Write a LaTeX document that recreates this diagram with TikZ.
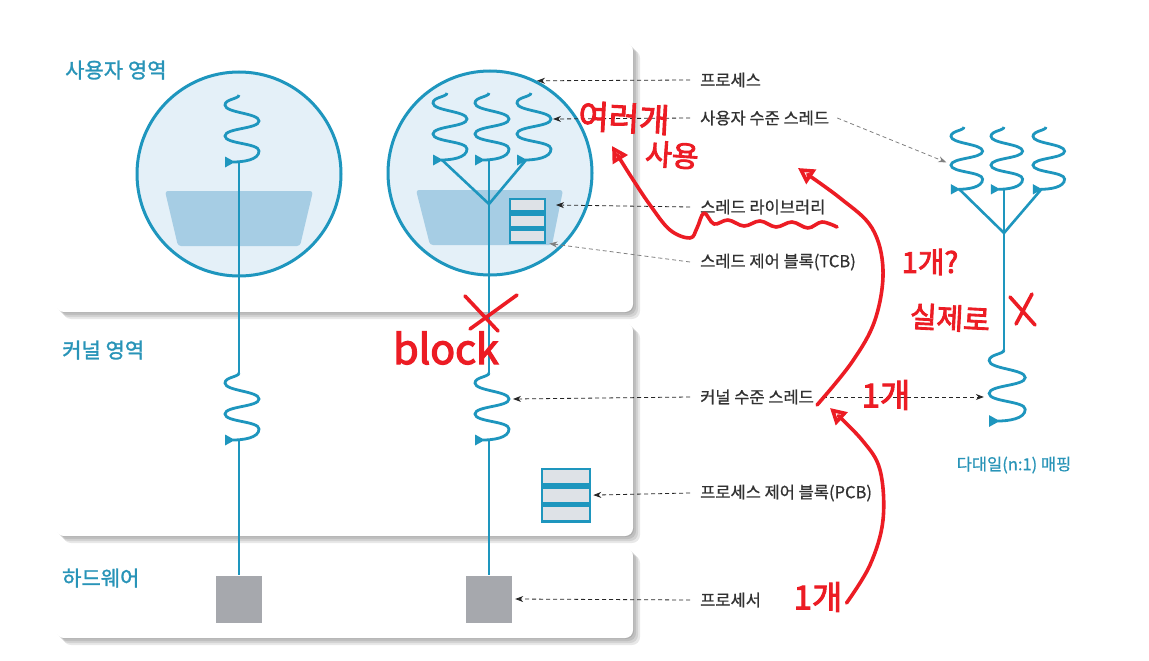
\documentclass[tikz,border=0pt]{standalone}
\usepackage{fontspec}
\setmainfont{Noto Sans CJK KR}
\newfontfamily\handfont[FakeBold=3]{Noto Sans CJK KR}
\newfontfamily\areafont[FakeBold=1.4]{Noto Sans CJK KR}
\newfontfamily\notefont[FakeBold=0.7]{Noto Sans CJK KR}
\usetikzlibrary{arrows.meta}

\definecolor{thr}{RGB}{30,150,190}
\definecolor{areatxt}{RGB}{40,148,184}
\definecolor{cellfill}{RGB}{228,240,248}
\definecolor{libfill}{RGB}{166,205,228}
\definecolor{rowfill}{RGB}{222,226,231}
\definecolor{cpufill}{RGB}{166,168,173}
\definecolor{lbl}{RGB}{50,50,50}
\definecolor{redink}{RGB}{236,28,36}

\tikzset{
  thread/.pic={
    \draw[wave] (0,0) .. controls (0,4) and (-14,4) .. (-14,10)
      .. controls (-14,18) and (20,18) .. (20,26)
      .. controls (20,34) and (-14,33) .. (-14,41)
      .. controls (-14,49) and (20,48) .. (20,56)
      .. controls (20,65) and (4,67) .. (-6,67);
    \fill[thr] (-14,61.5) -- (-14,72.5) -- (-4,67) -- cycle;
    \coordinate (-top) at (0,0);
    \coordinate (-bot) at (0,67);
    \coordinate (-end) at (-5,67);
    \coordinate (-rb) at (20,26);
    \coordinate (-lbo) at (-19,38);
  }
}

\begin{document}
\begin{tikzpicture}[
  x=1pt, y=-1pt,
  panel/.style={fill=white, rounded corners=8},
  shade/.style={fill=black, opacity=0.09, rounded corners=8},
  wave/.style={draw=thr, line width=2.8},
  link/.style={draw=thr, line width=2.6},
  procbody/.style={circle, draw=thr, line width=3, fill=cellfill, minimum size=204, inner sep=0},
  lib/.style={fill=libfill, rounded corners=3},
  cpu/.style={fill=cpufill, minimum width=46, minimum height=47, inner sep=0},
  ctrl/.style={draw=thr, line width=2.6, fill=rowfill, minimum width=#1, inner sep=0},
  area/.style={font=\areafont\fontsize{21}{24}\selectfont, text=areatxt, anchor=west, inner sep=0},
  note/.style={font=\notefont\fontsize{16.5}{19}\selectfont, text=lbl, anchor=west, inner sep=0},
  ptr/.style={draw=black!85, line width=0.8, dash pattern=on 4pt off 3pt, -{Stealth[length=8,width=6]}},
  ptrg/.style={ptr, draw=black!50},
  scribble/.style={draw=redink, line width=3.6, line cap=round, line join=round},
  redtip/.style={-{Triangle[open, length=16, width=17]}},
  scrawl/.style={text=redink, font=\handfont\fontsize{#1}{#1}\selectfont, inner sep=0}
]
\useasboundingbox (0,0) rectangle (1149,661);
\fill[white] (0,0) rectangle (1149,661);

% panels with soft shadow
\foreach \ya/\yb in {43/312, 323/536, 548/638} {
  \foreach \s in {1,3,5,7}
    \fill[shade] (56+\s,\ya+\s) rectangle (633+\s,\yb+\s);
  \fill[panel] (56,\ya) rectangle (633,\yb);
}
\node[area] (uarea) at (65,70) {사용자 영역};
\node[area] (karea) at (62,350) {커널 영역};
\node[area] (harea) at (62,578) {하드웨어};

% processes
\node[procbody] (procL) at (239,174) {};
\node[procbody] (procR) at (490,173) {};
\fill[lib] (165,191) -- (313,191) -- (300,246) -- (178,246) -- cycle;
\fill[lib] (416,190) -- (563,190) -- (552,245) -- (430,245) -- cycle;

% threads
\pic (uL) at (239,95) {thread};
\pic (uA) at (447,93) {thread};
\pic (uM) at (489,93) {thread};
\pic (uC) at (531,93) {thread};
\pic (kL) at (239,373) {thread};
\pic (kM) at (489,373) {thread};
\coordinate (conv) at (489,204);
\draw[link] (uL-bot) -- (kL-top);
\draw[link] (uM-bot) -- (kM-top);
\draw[link] (uA-end) -- (conv);
\draw[link] (uC-end) -- (conv);

% control blocks
\node[ctrl=35, minimum height=12.7] (tcb1) at (527.5,205.3) {};
\node[ctrl=35, minimum height=12.7, anchor=north] (tcb2) at (tcb1.south) {};
\node[ctrl=35, minimum height=12.7, anchor=north] (tcb3) at (tcb2.south) {};
\node[ctrl=48, minimum height=15.7] (pcb1) at (566,476.8) {};
\node[ctrl=48, minimum height=15.7, anchor=north] (pcb2) at (pcb1.south) {};
\node[ctrl=48, minimum height=15.7, anchor=north] (pcb3) at (pcb2.south) {};

% processors
\node[cpu] (cpuL) at (239,599) {};
\node[cpu] (cpuR) at (489,599) {};
\draw[link] (kL-bot) -- (cpuL.north);
\draw[link] (kM-bot) -- (cpuR.north);

% many-to-one mapping
\pic[scale=0.93] (mA) at (964,127) {thread};
\pic[scale=0.93] (mB) at (1004,127) {thread};
\pic[scale=0.93] (mC) at (1046,127) {thread};
\pic[scale=1.06] (mK) at (1004,350) {thread};
\coordinate (mconv) at (1004,233);
\draw[link] (mA-end) -- (mconv);
\draw[link] (mC-end) -- (mconv);
\draw[link] (mB-bot) -- (mK-top);
\node[font=\notefont\fontsize{16.5}{19}\selectfont, text=areatxt, inner sep=0] (mlabel) at (1014,465) {다대일(n:1) 매핑};

% labels
\node[note] (nProc) at (700,80) {프로세스};
\node[note] (nUthr) at (700,118) {사용자 수준 스레드};
\node[note] (nLib) at (700,207) {스레드 라이브러리};
\node[note] (nTcb) at (700,262) {스레드 제어 블록(TCB)};
\node[note] (nKthr) at (700,397) {커널 수준 스레드};
\node[note] (nPcb) at (700,493) {프로세스 제어 블록(PCB)};
\node[note] (nCpu) at (700,600) {프로세서};
\coordinate (libpt) at (556,205);

\draw[ptr] ([xshift=-10]nProc.west) -- (procR.63);
\draw[ptr] ([xshift=-10]nUthr.west) -- ([xshift=2]uC-rb);
\draw[ptr] ([xshift=-10]nLib.west) -- (libpt);
\draw[ptrg] ([xshift=-10]nTcb.west) -- ([xshift=3]tcb3.south east);
\draw[ptrg] ([xshift=8]nUthr.east) -- (mA-lbo);
\draw[ptr] ([xshift=-10]nKthr.west) -- ([xshift=4]kM-rb);
\draw[ptr] ([xshift=9]nKthr.east) -- (mK-lbo |- nKthr.east);
\draw[ptr] ([xshift=-10]nPcb.west) -- ([xshift=2]pcb2.east);
\draw[ptr] ([xshift=-10]nCpu.west) -- ([xshift=3]cpuR.east);

% handwritten notes
\node[scrawl=33, rotate=-3] (rMany) at (624,118) {여러개};
\node[scrawl=29, rotate=-4] (rUse) at (672,155) {사용};
\node[scrawl=29] (rOneQ) at (930,262) {1개?};
\node[scrawl=29, rotate=-3] (rReal) at (950,318) {실제로};
\node[scrawl=33] (rOneK) at (886,395) {1개};
\node[scrawl=33] (rOneC) at (818,597) {1개};
\node[scrawl=41] (rBlock) at (446,348) {block};
\coordinate (rTipA) at (612,146);
\coordinate (rTipB) at (798,168);
\coordinate (rTipC) at (830,408);

\draw[scribble, redtip] plot[smooth, tension=0.6] coordinates {(837,227) (822,222) (808,228) (792,222) (776,227) (760,221) (744,226) (728,220) (714,224) (704,213) (697,228) (690,238) (670,230) (650,205) (630,175) (rTipA)};
\draw[scribble, redtip] plot[smooth, tension=0.6] coordinates {([xshift=3,yshift=-8]nKthr.east) (852,362) (875,320) (883,270) (872,228) (840,198) (rTipB)};
\draw[scribble, redtip] plot[smooth, tension=0.6] coordinates {([xshift=4,yshift=-6]rOneC.east) (870,565) (883,520) (880,470) (862,440) (rTipC)};
\draw[scribble] (465,296) -- (498,331);
\draw[scribble] (517,295) -- (470,329);
\draw[scribble] (1010,297) -- (1035,325);
\draw[scribble] (1032,294) -- (1016,324);
\end{tikzpicture}
\end{document}
